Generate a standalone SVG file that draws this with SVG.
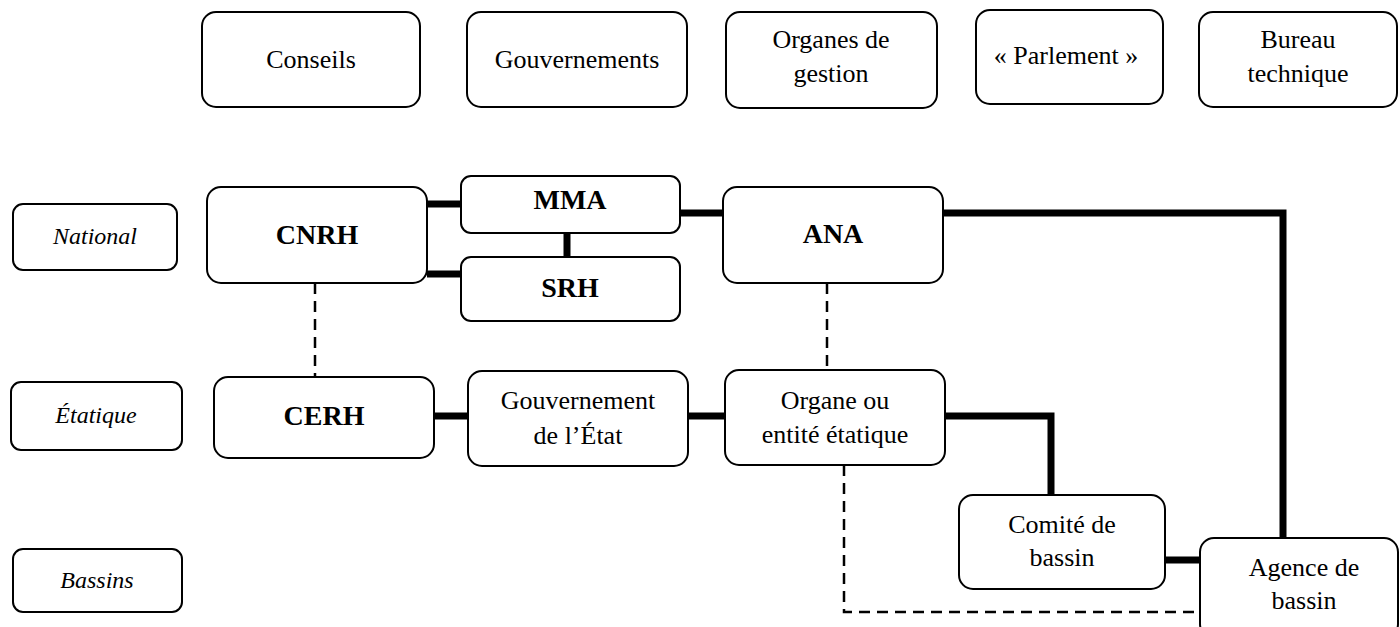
<svg xmlns="http://www.w3.org/2000/svg" width="1400" height="627" viewBox="0 0 1400 627">
<style>
.box{fill:#fff;stroke:#000;stroke-width:2}
.t{font-family:"Liberation Serif","Times New Roman",serif;font-size:26px;fill:#000;text-anchor:middle}
.b{font-family:"Liberation Serif","Times New Roman",serif;font-size:28px;font-weight:bold;fill:#000;text-anchor:middle}
.i{font-family:"Liberation Serif","Times New Roman",serif;font-size:24px;font-style:italic;fill:#000;text-anchor:middle}
.thick{fill:none;stroke:#000;stroke-width:7;stroke-linejoin:miter}
.dash{fill:none;stroke:#000;stroke-width:2.5;stroke-dasharray:11 7}
</style>
<rect width="1400" height="627" fill="#fff"/>
<g id="connectors">
<path class="thick" d="M427 204H461"/>
<path class="thick" d="M427 274H461"/>
<path class="thick" d="M567 233V257"/>
<path class="thick" d="M680 213H723"/>
<path class="thick" d="M943 213H1283V538"/>
<path class="thick" d="M434 416H468"/>
<path class="thick" d="M688 416H725"/>
<path class="thick" d="M945 416H1051V495"/>
<path class="thick" d="M1165 560H1200"/>
<path class="dash" d="M315 283V377"/>
<path class="dash" d="M827 283V370"/>
<path class="dash" d="M844 465V612H1200"/>
</g>
<g id="conseils"><rect class="box" x="202" y="12" width="218" height="95" rx="14"/><text class="t" x="311" y="68">Conseils</text></g>
<g id="gouvernements"><rect class="box" x="467" y="12" width="220" height="95" rx="14"/><text class="t" x="577" y="68">Gouvernements</text></g>
<g id="organes"><rect class="box" x="726" y="12" width="211" height="96" rx="14"/><text class="t" x="831" y="48">Organes de</text><text class="t" x="831" y="82">gestion</text></g>
<g id="parlement"><rect class="box" x="976" y="10" width="187" height="94" rx="14"/><text class="t" x="1066" y="64">« Parlement »</text></g>
<g id="bureau"><rect class="box" x="1199" y="12" width="198" height="95" rx="14"/><text class="t" x="1298" y="48">Bureau</text><text class="t" x="1298" y="82">technique</text></g>
<g id="national"><rect class="box" x="13" y="204" width="164" height="66" rx="10"/><text class="i" x="95" y="244">National</text></g>
<g id="etatique"><rect class="box" x="11" y="382" width="171" height="68" rx="10"/><text class="i" x="96" y="423">Étatique</text></g>
<g id="bassins"><rect class="box" x="13" y="549" width="169" height="63" rx="10"/><text class="i" x="97" y="588">Bassins</text></g>
<g id="cnrh"><rect class="box" x="207" y="187" width="220" height="96" rx="14"/><text class="b" x="317" y="244">CNRH</text></g>
<g id="mma"><rect class="box" x="461" y="176" width="219" height="57" rx="10"/><text class="b" x="570" y="209">MMA</text></g>
<g id="srh"><rect class="box" x="461" y="257" width="219" height="64" rx="10"/><text class="b" x="570" y="297">SRH</text></g>
<g id="ana"><rect class="box" x="723" y="187" width="220" height="96" rx="14"/><text class="b" x="833" y="243">ANA</text></g>
<g id="cerh"><rect class="box" x="214" y="377" width="220" height="81" rx="14"/><text class="b" x="324" y="425">CERH</text></g>
<g id="gouv-etat"><rect class="box" x="468" y="371" width="220" height="95" rx="14"/><text class="t" x="578" y="409">Gouvernement</text><text class="t" x="578" y="444">de l’État</text></g>
<g id="organe-etatique"><rect class="box" x="725" y="370" width="220" height="95" rx="14"/><text class="t" x="835" y="409">Organe ou</text><text class="t" x="835" y="443">entité étatique</text></g>
<g id="comite"><rect class="box" x="959" y="495" width="206" height="94" rx="14"/><text class="t" x="1062" y="533">Comité de</text><text class="t" x="1062" y="566">bassin</text></g>
<g id="agence"><rect class="box" x="1200" y="538" width="198" height="100" rx="14"/><text class="t" x="1304" y="576">Agence de</text><text class="t" x="1304" y="609">bassin</text></g>
</svg>
